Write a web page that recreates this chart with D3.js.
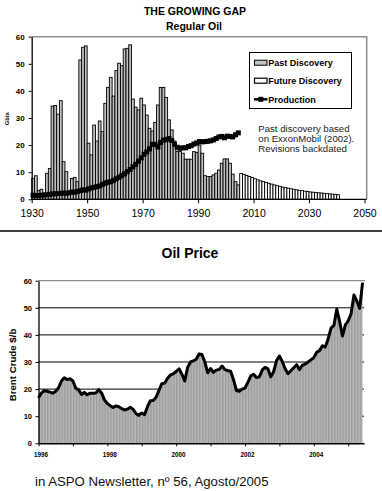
<!DOCTYPE html>
<html><head><meta charset="utf-8">
<script src="https://cdn.jsdelivr.net/npm/d3@7"></script>
<style>
html,body{margin:0;padding:0;background:#fff;}
svg{display:block;font-family:"Liberation Sans",Arial,sans-serif;}
</style></head><body>
<svg id="chart" width="382" height="491"></svg>
<script>
// ---------- Top chart data: THE GROWING GAP (Gb/a) ----------
const discoveryStartYear = 1930;
const pastDiscovery = [
  7.7, 8.7, 3.2, 3.7, 2.2, 9.6, 11.4, 34.4, 34.6, 31.4,
  36.4, 13.9, 10.2, 3.0, 7.7, 8.1, 6.5, 51.4, 56.1, 56.6,
  20.7, 16.4, 27.4, 21.5, 28.9, 25.0, 35.4, 41.3, 45.0, 38.1,
  47.5, 50.2, 49.3, 55.5, 55.7, 57.0, 37.0, 34.0, 33.0, 37.3,
  34.8, 31.1, 26.2, 25.2, 28.4, 34.8, 41.3, 41.3, 37.6, 29.3,
  25.6, 21.5, 17.6, 17.6, 17.0, 14.8, 14.8, 14.8, 17.6, 17.3,
  20.0, 17.0, 8.7, 8.4, 8.4, 9.0, 9.6, 10.8, 13.3, 14.9,
  14.9, 13.3, 9.3, 6.5, 5.3
];
const futureStartYear = 2005;
const futureDiscovery = [
  9.5, 9.2, 8.8, 8.4, 8.0, 7.6, 7.2, 6.8, 6.5, 6.2,
  5.9, 5.6, 5.3, 5.0, 4.8, 4.5, 4.3, 4.1, 3.9, 3.7,
  3.5, 3.3, 3.2, 3.0, 2.9, 2.7, 2.6, 2.5, 2.4, 2.3,
  2.2, 2.1, 2.0, 1.9, 1.8, 1.7
];
const productionStartYear = 1930;
const production = [
  1.5, 1.4, 1.4, 1.5, 1.6, 1.7, 1.8, 2.0, 2.0, 2.1,
  2.2, 2.3, 2.2, 2.4, 2.7, 2.6, 2.9, 3.2, 3.5, 3.4,
  3.8, 4.2, 4.4, 4.7, 4.9, 5.5, 6.0, 6.3, 6.5, 7.0,
  7.6, 8.1, 8.8, 9.4, 10.2, 11.0, 12.0, 12.9, 14.1, 15.3,
  16.6, 17.5, 18.6, 20.3, 20.3, 19.3, 21.0, 21.8, 22.0, 22.4,
  21.7, 20.3, 19.2, 18.8, 19.0, 19.0, 19.5, 19.8, 20.4, 20.8,
  21.3, 21.2, 21.3, 21.4, 21.6, 21.9, 22.4, 23.0, 23.2, 22.7,
  23.3, 23.2, 23.0, 23.8, 24.5
];
const topYTicks = [0, 10, 20, 30, 40, 50, 60];
const topXTicks = [1930, 1950, 1970, 1990, 2010, 2030, 2050];
const legendLabels = ["Past Discovery", "Future Discovery", "Production"];
const noteLines = ["Past discovery based", "on ExxonMobil (2002).", "Revisions backdated"];

// ---------- Bottom chart data: Oil Price (Brent, $/b, monthly from Jan 1996) ----------
const priceStartYear = 1996;
const brentMonthly = [
  16.8, 18.5, 19.4, 19.2, 18.9, 18.5, 19.2, 20.5, 23.0, 24.2, 23.5, 23.8,
  23.0, 20.3, 19.7, 18.0, 18.8, 17.9, 18.5, 18.5, 18.6, 19.8, 18.6, 16.0,
  14.7, 13.9, 13.2, 13.8, 13.5, 12.8, 12.3, 12.6, 13.3, 12.5, 11.0, 10.3,
  11.2, 10.6, 13.5, 15.7, 15.8, 17.0, 19.5, 22.0, 22.2, 24.0, 25.2, 25.6,
  26.5, 27.5, 25.5, 23.0, 28.0, 30.0, 30.4, 31.0, 33.0, 32.8, 30.0, 26.0,
  27.6, 26.2, 27.0, 27.2, 28.5, 27.2, 26.8, 26.6, 23.5, 19.5, 19.2, 20.0,
  20.4, 22.5, 24.8, 25.5, 24.3, 24.5, 27.0, 28.0, 27.5, 24.5, 26.5, 30.5,
  32.2, 30.2, 27.5, 25.7, 26.8, 27.9, 29.0, 27.2, 28.8, 29.2, 30.0, 30.8,
  31.6, 33.6, 34.2, 36.0, 35.5, 38.5, 42.5, 43.5, 49.5, 45.0, 39.6, 43.7,
  45.2, 47.8, 54.7, 52.5, 49.8, 59.3
];
const priceYTicks = [0, 10, 20, 30, 40, 50, 60];
const priceYearTicks = [1996, 1997, 1998, 1999, 2000, 2001, 2002, 2003, 2004, 2005];
const priceYearLabels = [1996, 1998, 2000, 2002, 2004];

const footerText = "in ASPO Newsletter, nº 56, Agosto/2005";

// ---------- Drawing ----------
const svg = d3.select("#chart");

// ===== Top chart =====
const tx = d3.scaleLinear().domain([1930, 2050]).range([31.7, 364.5]);
const ty = d3.scaleLinear().domain([0, 60]).range([199.3, 36.7]);

svg.append("text").attr("x", 195).attr("y", 14.5).attr("text-anchor", "middle")
  .attr("font-size", 10.5).attr("font-weight", "bold").text("THE GROWING GAP");
svg.append("text").attr("x", 194).attr("y", 29.5).attr("text-anchor", "middle")
  .attr("font-size", 10.5).attr("font-weight", "bold").text("Regular Oil");

// frame (grey top & right)
svg.append("path").attr("d", `M${tx(1930)},${ty(60)}H366.7V${ty(0)}`)
  .attr("fill", "none").attr("stroke", "#8c8c8c").attr("stroke-width", 1.5);

const pastData = pastDiscovery.map((v, i) => ({ year: discoveryStartYear + i, v }));
const futureData = futureDiscovery.map((v, i) => ({ year: futureStartYear + i, v }));

svg.append("g").selectAll("rect").data(pastData).join("rect")
  .attr("x", d => tx(d.year)).attr("width", d => tx(d.year + 1) - tx(d.year))
  .attr("y", d => ty(d.v)).attr("height", d => ty(0) - ty(d.v))
  .attr("fill", "#c0c0c0").attr("stroke", "#000").attr("stroke-width", 0.9);

svg.append("g").selectAll("rect").data(futureData).join("rect")
  .attr("x", d => tx(d.year)).attr("width", d => tx(d.year + 1) - tx(d.year))
  .attr("y", d => ty(d.v)).attr("height", d => ty(0) - ty(d.v))
  .attr("fill", "#fff").attr("stroke", "#000").attr("stroke-width", 0.9);

const prodData = production.map((v, i) => ({ year: productionStartYear + i, v }));
svg.append("path").datum(prodData)
  .attr("d", d3.line().x(d => tx(d.year + 0.5)).y(d => ty(d.v)))
  .attr("fill", "none").attr("stroke", "#000").attr("stroke-width", 2.5);
svg.append("g").selectAll("rect").data(prodData).join("rect")
  .attr("x", d => tx(d.year + 0.5) - 2.5).attr("y", d => ty(d.v) - 2.5)
  .attr("width", 5).attr("height", 5).attr("fill", "#000");

// axes
const topYAxis = svg.append("g").attr("transform", `translate(${tx(1930)},0)`)
  .call(d3.axisLeft(ty).tickValues(topYTicks).tickSize(3).tickSizeOuter(0));
topYAxis.select(".domain").attr("stroke-width", 1.3);
topYAxis.selectAll("text").attr("font-size", 8).attr("font-weight", "bold")
  .attr("font-family", "Liberation Sans, Arial, sans-serif").attr("dx", "-1");

const topXAxis = svg.append("g").attr("transform", `translate(0,${ty(0)})`)
  .call(d3.axisBottom(tx).tickValues(topXTicks).tickFormat(d3.format("d")).tickSize(4).tickSizeOuter(0));
topXAxis.select(".domain").attr("d", `M${tx(1930)},0H366.7`).attr("stroke-width", 1.3);
topXAxis.selectAll("text").attr("font-size", 10.5)
  .attr("font-family", "Liberation Sans, Arial, sans-serif").attr("dy", "1.05em");

svg.append("text").attr("transform", "translate(9.2,118.7) rotate(-90)")
  .attr("text-anchor", "middle").attr("font-size", 5.8).attr("font-weight", "bold").text("Gb/a");

// legend
const lg = svg.append("g");
lg.append("rect").attr("x", 249.5).attr("y", 52.5).attr("width", 102).attr("height", 56)
  .attr("fill", "#fff").attr("stroke", "#000").attr("stroke-width", 1);
const legendRowsY = [62.7, 80.7, 99.3];
lg.append("rect").attr("x", 254.5).attr("y", legendRowsY[0] - 2.5).attr("width", 12.5).attr("height", 5)
  .attr("fill", "#c0c0c0").attr("stroke", "#000").attr("stroke-width", 1);
lg.append("rect").attr("x", 254.5).attr("y", legendRowsY[1] - 2.5).attr("width", 12.5).attr("height", 5)
  .attr("fill", "#fff").attr("stroke", "#000").attr("stroke-width", 1.2);
lg.append("line").attr("x1", 254).attr("x2", 267.5).attr("y1", legendRowsY[2]).attr("y2", legendRowsY[2])
  .attr("stroke", "#000").attr("stroke-width", 2.5);
lg.append("rect").attr("x", 258.3).attr("y", legendRowsY[2] - 2.5).attr("width", 5).attr("height", 5).attr("fill", "#000");
lg.selectAll("text.lt").data(legendLabels).join("text").attr("class", "lt")
  .attr("x", 268.3).attr("y", (d, i) => legendRowsY[i] + 3.3)
  .attr("font-size", 9).attr("font-weight", "bold").text(d => d);

svg.append("g").selectAll("text").data(noteLines).join("text")
  .attr("x", 258.3).attr("y", (d, i) => 131.6 + i * 10.4)
  .attr("font-size", 9.6).attr("fill", "#222").text(d => d);

// divider
svg.append("line").attr("x1", 0).attr("x2", 382).attr("y1", 231).attr("y2", 231)
  .attr("stroke", "#000").attr("stroke-width", 1.5);

// ===== Bottom chart =====
svg.append("text").attr("x", 190).attr("y", 258).attr("text-anchor", "middle")
  .attr("font-size", 14).attr("font-weight", "bold").text("Oil Price");

const monthsSpan = 113.5;
const px = d3.scaleLinear().domain([0, monthsSpan]).range([38.5, 364]);
const py = d3.scaleLinear().domain([0, 60]).range([443.3, 280.7]);
const yearToMonth = y => (y - priceStartYear) * 12;

// stripe pattern
const defs = svg.append("defs");
const stripeW = px(1) - px(0);
const pat = defs.append("pattern").attr("id", "stripes").attr("patternUnits", "userSpaceOnUse")
  .attr("x", px(0)).attr("y", 0).attr("width", stripeW).attr("height", 10);
pat.append("rect").attr("width", stripeW).attr("height", 10).attr("fill", "#bababa");
pat.append("rect").attr("width", stripeW * 0.5).attr("height", 10).attr("fill", "#9a9a9a");

// gridlines
svg.append("g").selectAll("line").data(priceYTicks.filter(t => t > 0 && t < 60)).join("line")
  .attr("x1", px(0)).attr("x2", px(monthsSpan)).attr("y1", d => py(d)).attr("y2", d => py(d))
  .attr("stroke", "#000").attr("stroke-width", 1);
svg.append("line").attr("x1", px(0)).attr("x2", px(monthsSpan) + 1).attr("y1", py(60)).attr("y2", py(60))
  .attr("stroke", "#8c8c8c").attr("stroke-width", 1.2);

const priceData = brentMonthly.map((v, i) => ({ m: i, v }));
svg.append("path").datum(priceData)
  .attr("d", d3.area().x(d => px(d.m)).y0(py(0)).y1(d => py(d.v)))
  .attr("fill", "url(#stripes)");
svg.append("path").datum(priceData)
  .attr("d", d3.line().x(d => px(d.m)).y(d => py(d.v)))
  .attr("fill", "none").attr("stroke", "#000").attr("stroke-width", 3).attr("stroke-linejoin", "round");

const pYAxis = svg.append("g").attr("transform", `translate(${px(0)},0)`)
  .call(d3.axisLeft(py).tickValues(priceYTicks).tickSize(3).tickSizeOuter(0));
pYAxis.select(".domain").attr("stroke-width", 1.3);
pYAxis.selectAll("text").attr("font-size", 7.5).attr("font-weight", "bold")
  .attr("font-family", "Liberation Sans, Arial, sans-serif").attr("dx", "-0.5");

const pXAxis = svg.append("g").attr("transform", `translate(0,${py(0)})`)
  .call(d3.axisBottom(px)
    .tickValues(priceYearTicks.map(yearToMonth))
    .tickFormat(m => { const y = priceStartYear + m / 12; return priceYearLabels.includes(y) ? String(y) : ""; })
    .tickSize(3).tickSizeOuter(0));
pXAxis.select(".domain").attr("stroke-width", 1.5);
pXAxis.selectAll("text").attr("font-size", 6.3).attr("font-weight", "bold")
  .attr("font-family", "Liberation Sans, Arial, sans-serif").attr("dx", "0.3em").attr("dy", "1.3em");

svg.append("text").attr("transform", "translate(15.5,365) rotate(-90)")
  .attr("text-anchor", "middle").attr("font-size", 9.7).attr("font-weight", "bold").text("Brent Crude $/b");

svg.append("text").attr("x", 35).attr("y", 485.5).attr("font-size", 13.2).attr("fill", "#111")
  .text(footerText);
</script>
</body></html>
